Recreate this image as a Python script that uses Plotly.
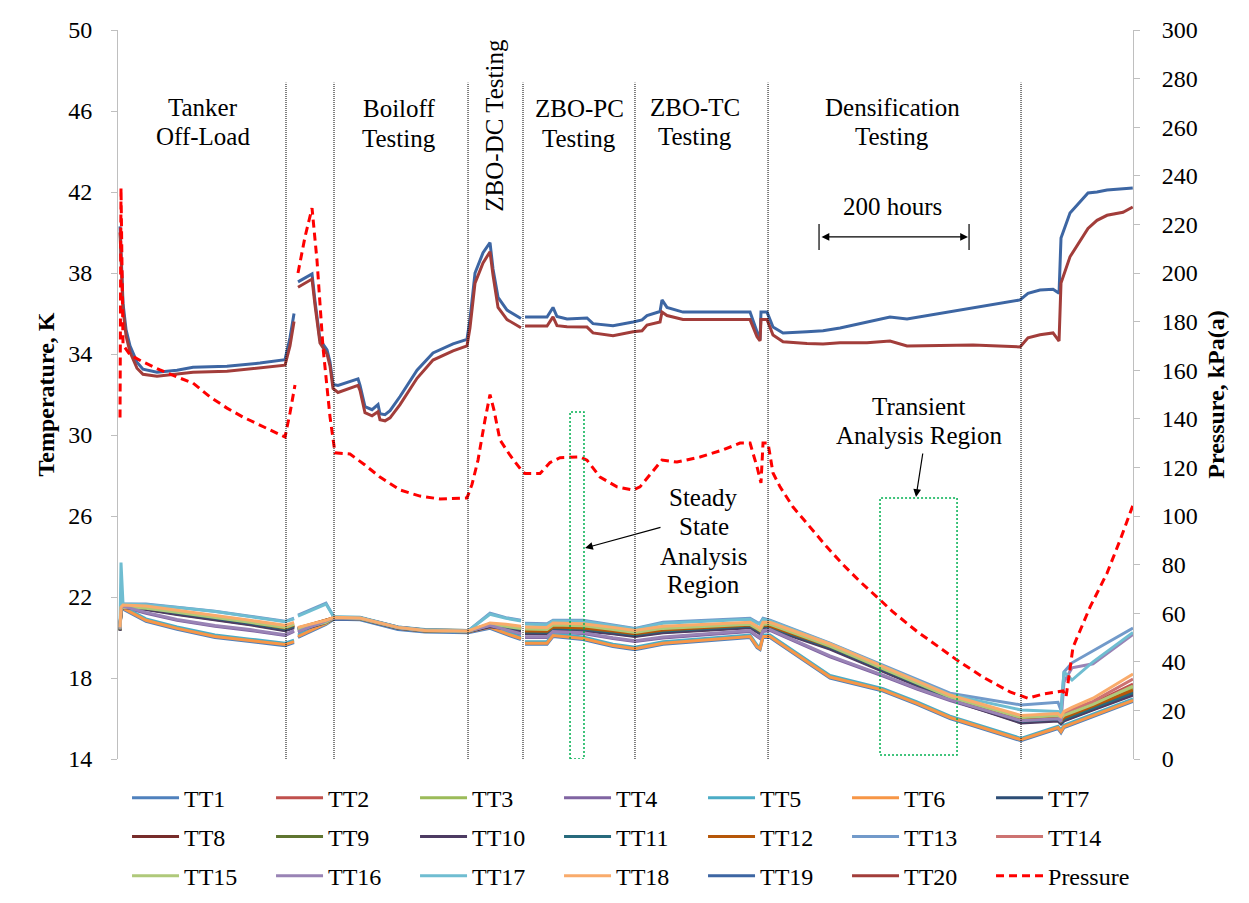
import plotly.graph_objects as go

FONT = "Liberation Serif"

# ---------------- data (x in hours, temperatures in K, pressure in kPa(a)) ----------------
X_LOW = [2.7, 4.0, 6.7, 37.3, 78.7, 129.3, 176.0, 222.7, 234.7, None, 240.0, 277.3, 288.0, 322.7,
         373.3, 409.3, 466.7, 496.0, 517.3, 537.3, None, 542.7, 572.0, 580.0, 620.0, 660.0, 689.3,
         726.7, 842.7, 852.0, 856.0, 860.0, 869.3, 949.3, 1020.0, 1065.3, 1109.3, 1204.0, 1253.3,
         1257.3, 1261.3, 1272.0, 1300.0, 1353.3]

TT1 = [20.4, 21.35, 21.4, 20.8, 20.4, 20.0, 19.8, 19.6, 19.75, None, 20.0, 20.65, 20.9, 20.88, 20.4, 20.27, 20.23, 20.45, 20.15, 19.9, None, 19.67, 19.67, 20.05, 19.9, 19.55, 19.4, 19.67, 20.0, 19.5, 19.4, 20.0, 20.0, 18.0, 17.35, 16.7, 16.0, 14.9, 15.5, 15.3, 15.55, 15.7, 16.1, 16.85]
TT2 = [20.38, 21.38, 21.48, 21.43, 21.23, 20.98, 20.73, 20.48, 20.63, None, 20.38, 20.73, 20.96, 20.94, 20.48, 20.33, 20.3, 20.6, 20.53, 20.43, None, 20.4, 20.38, 20.6, 20.56, 20.38, 20.23, 20.43, 20.63, 20.43, 20.33, 20.63, 20.63, 19.56, 18.46, 17.76, 17.04, 16.03, 16.13, 15.98, 16.15, 16.32, 16.75, 17.7]
TT3 = [20.34, 21.34, 21.44, 21.39, 21.19, 20.94, 20.69, 20.44, 20.59, None, 20.34, 20.69, 20.95, 20.93, 20.47, 20.32, 20.29, 20.56, 20.49, 20.39, None, 20.36, 20.34, 20.56, 20.52, 20.34, 20.19, 20.39, 20.59, 20.39, 20.29, 20.59, 20.59, 19.52, 18.42, 17.72, 17.0, 15.99, 16.09, 15.94, 16.1, 16.25, 16.65, 17.5]
TT4 = [20.4, 21.4, 21.5, 21.2, 20.85, 20.55, 20.35, 20.1, 20.3, None, 20.25, 20.75, 20.95, 20.94, 20.47, 20.33, 20.3, 20.55, 20.35, 20.15, None, 20.0, 20.0, 20.25, 20.2, 19.95, 19.8, 19.98, 20.3, 20.05, 19.95, 20.3, 20.35, 19.05, 18.1, 17.45, 16.88, 15.85, 15.95, 15.8, 15.95, 16.1, 16.5, 17.3]
TT5 = [20.52, 21.47, 21.52, 20.92, 20.52, 20.12, 19.92, 19.72, 19.87, None, 20.12, 20.77, 21.02, 21.0, 20.52, 20.39, 20.35, 20.57, 20.27, 20.02, None, 19.79, 19.79, 20.17, 20.02, 19.67, 19.52, 19.79, 20.12, 19.62, 19.52, 20.12, 20.12, 18.12, 17.47, 16.82, 16.12, 15.02, 15.62, 15.42, 15.67, 15.82, 16.22, 16.97]
TT6 = [20.45, 21.4, 21.45, 20.85, 20.45, 20.05, 19.85, 19.65, 19.8, None, 20.05, 20.7, 20.95, 20.93, 20.45, 20.32, 20.28, 20.5, 20.2, 19.95, None, 19.72, 19.72, 20.1, 19.95, 19.6, 19.45, 19.72, 20.05, 19.55, 19.45, 20.05, 20.05, 18.05, 17.4, 16.75, 16.05, 14.95, 15.55, 15.35, 15.6, 15.75, 16.15, 16.9]
TT7 = [20.4, 21.4, 21.55, 21.45, 21.2, 20.95, 20.7, 20.4, 20.55, None, 20.4, 20.8, 20.95, 20.95, 20.48, 20.34, 20.31, 20.6, 20.5, 20.4, None, 20.25, 20.24, 20.45, 20.4, 20.25, 20.12, 20.3, 20.55, 20.35, 20.25, 20.55, 20.5, 19.5, 18.4, 17.7, 17.0, 15.85, 15.95, 15.8, 15.95, 16.1, 16.5, 17.3]
TT8 = [20.44, 21.44, 21.59, 21.49, 21.24, 20.99, 20.74, 20.44, 20.59, None, 20.44, 20.84, 20.97, 20.96, 20.5, 20.36, 20.33, 20.64, 20.54, 20.44, None, 20.29, 20.28, 20.49, 20.44, 20.29, 20.16, 20.34, 20.59, 20.39, 20.29, 20.59, 20.54, 19.54, 18.44, 17.74, 17.04, 15.89, 15.99, 15.84, 15.99, 16.14, 16.54, 17.25]
TT9 = [20.36, 21.36, 21.51, 21.41, 21.16, 20.91, 20.66, 20.36, 20.51, None, 20.36, 20.76, 20.94, 20.94, 20.47, 20.33, 20.3, 20.56, 20.46, 20.36, None, 20.21, 20.2, 20.41, 20.36, 20.21, 20.08, 20.26, 20.51, 20.31, 20.21, 20.51, 20.46, 19.46, 18.36, 17.66, 16.96, 15.81, 15.91, 15.76, 15.91, 16.06, 16.46, 17.2]
TT10 = [20.33, 21.33, 21.48, 21.38, 21.13, 20.88, 20.63, 20.33, 20.48, None, 20.33, 20.73, 20.93, 20.93, 20.46, 20.32, 20.29, 20.53, 20.43, 20.33, None, 20.18, 20.17, 20.38, 20.33, 20.18, 20.05, 20.23, 20.48, 20.28, 20.18, 20.48, 20.43, 19.43, 18.33, 17.63, 16.93, 15.78, 15.88, 15.73, 15.88, 16.03, 16.43, 17.15]
TT11 = [20.42, 21.42, 21.57, 21.47, 21.22, 20.97, 20.72, 20.42, 20.57, None, 20.42, 20.82, 20.96, 20.95, 20.49, 20.35, 20.32, 20.62, 20.52, 20.42, None, 20.27, 20.26, 20.47, 20.42, 20.27, 20.14, 20.32, 20.57, 20.37, 20.27, 20.57, 20.52, 19.52, 18.42, 17.72, 17.02, 15.87, 15.97, 15.82, 15.97, 16.12, 16.52, 17.28]
TT12 = [20.47, 21.47, 21.62, 21.52, 21.27, 21.02, 20.77, 20.47, 20.62, None, 20.47, 20.87, 20.98, 20.97, 20.51, 20.37, 20.34, 20.67, 20.57, 20.47, None, 20.32, 20.31, 20.52, 20.47, 20.32, 20.19, 20.37, 20.62, 20.42, 20.32, 20.62, 20.57, 19.57, 18.47, 17.77, 17.07, 15.92, 16.02, 15.87, 16.05, 16.2, 16.62, 17.4]
TT13 = [20.6, 21.6, 21.65, 21.65, 21.5, 21.3, 21.05, 20.8, 20.95, None, 21.1, 21.7, 21.0, 20.98, 20.52, 20.37, 20.33, 21.2, 20.98, 20.85, None, 20.7, 20.68, 20.85, 20.85, 20.62, 20.45, 20.75, 20.95, 20.75, 20.7, 20.95, 20.85, 19.72, 18.62, 17.92, 17.25, 16.67, 16.8, 16.4, 18.3, 18.75, 19.35, 20.47]
TT14 = [20.44, 21.44, 21.54, 21.49, 21.29, 21.04, 20.79, 20.54, 20.69, None, 20.44, 20.79, 20.98, 20.95, 20.49, 20.34, 20.31, 20.66, 20.59, 20.49, None, 20.46, 20.44, 20.66, 20.62, 20.44, 20.29, 20.49, 20.69, 20.49, 20.39, 20.69, 20.69, 19.62, 18.52, 17.82, 17.1, 16.09, 16.19, 16.04, 16.25, 16.45, 16.85, 17.95]
TT15 = [20.4, 21.4, 21.5, 21.45, 21.25, 21.0, 20.75, 20.5, 20.65, None, 20.4, 20.75, 20.97, 20.94, 20.48, 20.33, 20.3, 20.62, 20.55, 20.45, None, 20.42, 20.4, 20.62, 20.58, 20.4, 20.25, 20.45, 20.65, 20.45, 20.35, 20.65, 20.65, 19.58, 18.48, 17.78, 17.06, 16.05, 16.15, 16.0, 16.15, 16.3, 16.7, 17.6]
TT16 = [20.44, 21.44, 21.54, 21.24, 20.89, 20.59, 20.39, 20.14, 20.34, None, 20.29, 20.79, 20.97, 20.96, 20.49, 20.35, 20.32, 20.59, 20.39, 20.19, None, 20.04, 20.04, 20.29, 20.24, 19.99, 19.84, 20.02, 20.34, 20.09, 19.99, 20.34, 20.39, 19.09, 18.14, 17.49, 16.92, 15.89, 15.99, 15.84, 17.8, 18.5, 18.7, 20.15]
TT17 = [20.5, 23.7, 21.65, 21.62, 21.48, 21.28, 21.03, 20.78, 20.92, None, 21.05, 21.65, 21.0, 20.97, 20.5, 20.36, 20.32, 21.15, 20.95, 20.82, None, 20.65, 20.63, 20.82, 20.8, 20.58, 20.42, 20.7, 20.9, 20.7, 20.65, 20.9, 20.82, 19.7, 18.6, 17.9, 17.18, 16.42, 16.35, 16.25, 18.3, 17.9, 18.8, 20.25]
TT18 = [20.5, 21.5, 21.6, 21.55, 21.35, 21.1, 20.85, 20.6, 20.75, None, 20.5, 20.85, 21.0, 20.96, 20.5, 20.35, 20.32, 20.72, 20.65, 20.55, None, 20.52, 20.5, 20.72, 20.68, 20.5, 20.35, 20.55, 20.75, 20.55, 20.45, 20.75, 20.75, 19.68, 18.58, 17.88, 17.16, 16.15, 16.25, 16.1, 16.35, 16.55, 17.0, 18.2]

X_UP = [2.7, 6.7, 10.7, 16.0, 25.3, 33.3, 52.0, 78.7, 100.0, 145.3, 189.3, 222.7, 229.3, 234.7, None,
        240.0, 258.7, 262.7, 269.3, 278.7, 282.7, 286.7, 293.3, 320.0, 322.7, 329.3, 338.7, 346.7,
        349.3, 356.0, 362.7, 376.0, 398.7, 420.0, 446.7, 465.3, 469.3, 476.0, 486.7, 496.0, 500.0,
        506.7, 518.7, 537.3, None,
        542.7, 572.0, 580.0, 585.3, 598.7, 625.3, 633.3, 660.0, 686.7, 698.7, 705.3, 718.7, 722.7,
        725.3, 732.0, 753.3, 842.7, 852.0, 856.0, 857.3, 865.3, 873.3, 886.7, 918.7, 940.0, 962.7,
        998.7, 1029.3, 1052.0, 1096.0, 1140.0, 1202.7, 1213.3, 1229.3, 1246.7, 1254.7, 1257.3,
        1269.3, 1293.3, 1305.3, 1318.7, 1340.0, 1353.0]
TT19 = [40.3, 36.5, 35.2, 34.4, 33.6, 33.25, 33.1, 33.2, 33.35, 33.4, 33.55, 33.72, 34.8, 36.0, None,
        37.56, 37.95, 36.6, 34.7, 34.2, 33.6, 32.5, 32.45, 32.77, 32.45, 31.4, 31.25, 31.5, 31.05,
        31.0, 31.2, 31.9, 33.2, 34.05, 34.5, 34.72, 35.7, 38.0, 39.0, 39.5, 38.2, 36.8, 36.17, 35.75, None,
        35.83, 35.83, 36.3, 35.85, 35.73, 35.78, 35.5, 35.4, 35.58, 35.68, 35.9, 36.07, 36.1, 36.67,
        36.3, 36.07, 36.07, 35.1, 34.7, 36.07, 36.07, 35.33, 35.04, 35.1, 35.15, 35.28, 35.58, 35.83,
        35.73, 36.0, 36.3, 36.67, 37.0, 37.16, 37.2, 37.0, 39.73, 40.96, 41.95, 42.0, 42.1, 42.15, 42.2]
TT20 = [40.0, 36.2, 34.9, 34.1, 33.3, 33.0, 32.9, 33.0, 33.1, 33.15, 33.3, 33.45, 34.4, 35.6, None,
        37.3, 37.7, 36.4, 34.55, 34.0, 33.4, 32.3, 32.1, 32.45, 32.2, 31.1, 30.95, 31.15, 30.75,
        30.7, 30.85, 31.5, 32.8, 33.7, 34.15, 34.4, 35.3, 37.5, 38.5, 39.05, 37.9, 36.3, 35.7, 35.3, None,
        35.38, 35.38, 35.83, 35.4, 35.35, 35.33, 35.04, 34.9, 35.1, 35.15, 35.43, 35.55, 35.58, 36.07,
        35.9, 35.7, 35.7, 34.85, 34.65, 35.7, 35.7, 34.94, 34.6, 34.52, 34.5, 34.55, 34.55, 34.64,
        34.4, 34.42, 34.44, 34.35, 34.8, 34.95, 35.04, 34.64, 37.5, 38.8, 40.2, 40.6, 40.85, 41.0, 41.26]

X_P = [2.7, 4.0, 6.7, 16.0, 33.3, 56.0, 78.7, 100.0, 122.7, 145.3, 166.7, 189.3, 222.7, 229.3, 236.0, None,
       240.0, 249.3, 258.7, 265.3, 273.3, 282.7, 289.3, 309.3, 329.3, 349.3, 376.0, 402.7, 429.3,
       465.3, 472.0, 480.0, 489.3, 496.0, 501.3, 509.3, 522.7, 538.7, 542.7, 562.7, 576.0, 589.3,
       616.0, 625.3, 642.7, 665.3, 686.7, 696.0, 725.3, 745.3, 776.0, 806.7, 829.3, 842.7, 852.0,
       857.3, 860.0, 866.7, 873.3, 882.7, 900.0, 922.7, 945.3, 966.7, 989.3, 1016.0, 1033.3, 1065.3,
       1118.7, 1153.3, 1189.3, 1213.3, 1233.3, 1260.0, 1264.0, 1273.3, 1296.0, 1318.7, 1336.0, 1353.3]
PRESSURE = [140.5, 235, 170.4, 166.3, 163.4, 160.1, 157.2, 154.7, 149, 144.4, 140.7, 137.4, 132.5, 142.4, 153.9, None,
            200, 214.8, 226.7, 205.3, 169.5, 140.7, 126, 125.5, 121, 116, 110.7, 108.2, 107, 107.4, 113,
            123, 139.5, 150, 143.6, 131.3, 125, 118.5, 117.5, 117.5, 122, 124, 124.3, 123, 116, 112,
            110.7, 112, 123, 122.2, 124.3, 127.2, 130, 130, 120.2, 113.6, 130, 130, 117.7, 112, 103.7,
            95.5, 87.2, 80, 73, 65.5, 60.5, 52.5, 40.7, 33.7, 27.6, 25, 26.7, 28, 25.5, 46, 62.5, 76.5, 90, 104.5]

SERIES = [
    ("TT1", TT1, "#4F81BD"), ("TT2", TT2, "#C0504D"), ("TT3", TT3, "#9BBB59"),
    ("TT4", TT4, "#8064A2"), ("TT5", TT5, "#4BACC6"), ("TT6", TT6, "#F79646"),
    ("TT7", TT7, "#2C4D75"), ("TT8", TT8, "#772C2A"), ("TT9", TT9, "#5F7530"),
    ("TT10", TT10, "#4D3B62"), ("TT11", TT11, "#276A7C"), ("TT12", TT12, "#B65708"),
    ("TT13", TT13, "#729ACA"), ("TT14", TT14, "#CD7371"), ("TT15", TT15, "#AFC97A"),
    ("TT16", TT16, "#9983B5"), ("TT17", TT17, "#6FBDD1"), ("TT18", TT18, "#F9AB6B"),
]

DIVIDERS = [224.0, 288.0, 466.7, 540.0, 689.3, 866.7, 1204.0]

fig = go.Figure()

legends = ["legend", "legend2", "legend3"]
idx = 0
for name, vals, col in SERIES:
    fig.add_trace(go.Scatter(x=X_LOW, y=vals, name=name, mode="lines",
                             line=dict(color=col, width=3), legend=legends[idx // 7],
                             connectgaps=False))
    idx += 1
for name, vals, col in [("TT19", TT19, "#3D66A3"), ("TT20", TT20, "#A23D3A")]:
    fig.add_trace(go.Scatter(x=X_UP, y=vals, name=name, mode="lines",
                             line=dict(color=col, width=3), legend=legends[idx // 7],
                             connectgaps=False))
    idx += 1
fig.add_trace(go.Scatter(x=X_P, y=PRESSURE, name="Pressure", mode="lines", yaxis="y2",
                         line=dict(color="#FF0000", width=3, dash="8px,5px"),
                         legend="legend3", connectgaps=False))

shapes = []
for xv in DIVIDERS:
    shapes.append(dict(type="line", xref="x", yref="y", x0=xv, x1=xv, y0=14, y1=47.4,
                       line=dict(color="black", width=1, dash="1px,1px")))
# analysis regions
shapes.append(dict(type="rect", xref="x", yref="y", x0=602.7, x1=621.3, y0=14.0, y1=31.14,
                   line=dict(color="#00B050", width=1.5, dash="2px,2px")))
shapes.append(dict(type="rect", xref="x", yref="y", x0=1016.0, x1=1118.7, y0=14.2, y1=26.89,
                   line=dict(color="#00B050", width=1.5, dash="2px,2px")))
# 200 hours end bars
for xv in (934.7, 1134.7):
    shapes.append(dict(type="line", xref="x", yref="y", x0=xv, x1=xv, y0=39.14, y1=40.42,
                       line=dict(color="black", width=1.2)))

ann_font = dict(family=FONT, size=25, color="black")
texts = [
    ("Tanker", 113.3, 46.17), ("Off-Load", 113.3, 44.74),
    ("Boiloff", 374.7, 46.1), ("Testing", 374.7, 44.64),
    ("ZBO-PC", 614.7, 46.1), ("Testing", 614.7, 44.64),
    ("ZBO-TC", 769.3, 46.17), ("Testing", 769.3, 44.72),
    ("Densification", 1032.0, 46.17), ("Testing", 1032.0, 44.72),
    ("200 hours", 1032.0, 41.26),
    ("Transient", 1068.0, 31.43), ("Analysis Region", 1068.0, 30.0),
    ("Steady", 781.3, 26.89), ("State", 781.3, 25.46), ("Analysis", 781.3, 24.02), ("Region", 781.3, 22.64),
]
annotations = [dict(text=t, x=xv, y=yv, xref="x", yref="y", showarrow=False, font=ann_font,
                    xanchor="center", yanchor="middle") for t, xv, yv in texts]
annotations.append(dict(text="ZBO-DC Testing", x=502.0, y=45.3, xref="x", yref="y", showarrow=False,
                        font=ann_font, textangle=-90, xanchor="center", yanchor="middle"))
# arrows
annotations.append(dict(text="", x=622.7, y=24.42, ax=725.3, ay=25.46, xref="x", yref="y",
                        axref="x", ayref="y", showarrow=True, arrowhead=2, arrowsize=1.3,
                        arrowwidth=1.2, arrowcolor="black"))
annotations.append(dict(text="", x=1064.0, y=26.94, ax=1073.3, ay=29.16, xref="x", yref="y",
                        axref="x", ayref="y", showarrow=True, arrowhead=2, arrowsize=1.3,
                        arrowwidth=1.2, arrowcolor="black"))
annotations.append(dict(text="", x=1133.3, y=39.78, ax=936.0, ay=39.78, xref="x", yref="y",
                        axref="x", ayref="y", showarrow=True, arrowhead=2, arrowside="end+start",
                        arrowsize=1.3, arrowwidth=1.2, arrowcolor="black"))

leg_common = dict(orientation="h", xanchor="left", yanchor="top", x=0.0089,
                  font=dict(family=FONT, size=24, color="black"), entrywidth=82,
                  entrywidthmode="pixels", itemwidth=47, bgcolor="rgba(0,0,0,0)",
                  tracegroupgap=0, traceorder="normal")

# the page body adds an 8px offset, so the figure is 16px smaller than the window
fig.update_layout(
    width=1233, height=887,
    margin=dict(l=110, r=108, t=22, b=136, autoexpand=False),
    paper_bgcolor="white", plot_bgcolor="white",
    font=dict(family=FONT, size=24, color="black"),
    showlegend=True,
    xaxis=dict(range=[0, 1353.3], visible=False, showgrid=False, zeroline=False),
    yaxis=dict(range=[14, 50], tick0=14, dtick=4, showgrid=False, zeroline=False,
               showline=True, linecolor="#BFBFBF", linewidth=1, ticks="outside", ticklen=6,
               tickcolor="#BFBFBF", tickfont=dict(family=FONT, size=24, color="black"),
               ticklabelstandoff=14,
               title=dict(text="<b>Temperature, K</b>", font=dict(family=FONT, size=24, color="black"),
                          standoff=6)),
    yaxis2=dict(range=[0, 300], tick0=0, dtick=20, overlaying="y", side="right", anchor="x",
                showgrid=False, zeroline=False, showline=True, linecolor="#BFBFBF", linewidth=1,
                ticks="outside", ticklen=6, tickcolor="#BFBFBF",
                tickfont=dict(family=FONT, size=24, color="black"), ticklabelstandoff=17,
                title=dict(text="<b>Pressure, kPa(a)</b>", font=dict(family=FONT, size=24, color="black"),
                           standoff=10)),
    legend=dict(leg_common, y=-0.0229),
    legend2=dict(leg_common, y=-0.0759),
    legend3=dict(leg_common, y=-0.1299),
    shapes=shapes,
    annotations=annotations,
)

fig.write_html("out.html")
